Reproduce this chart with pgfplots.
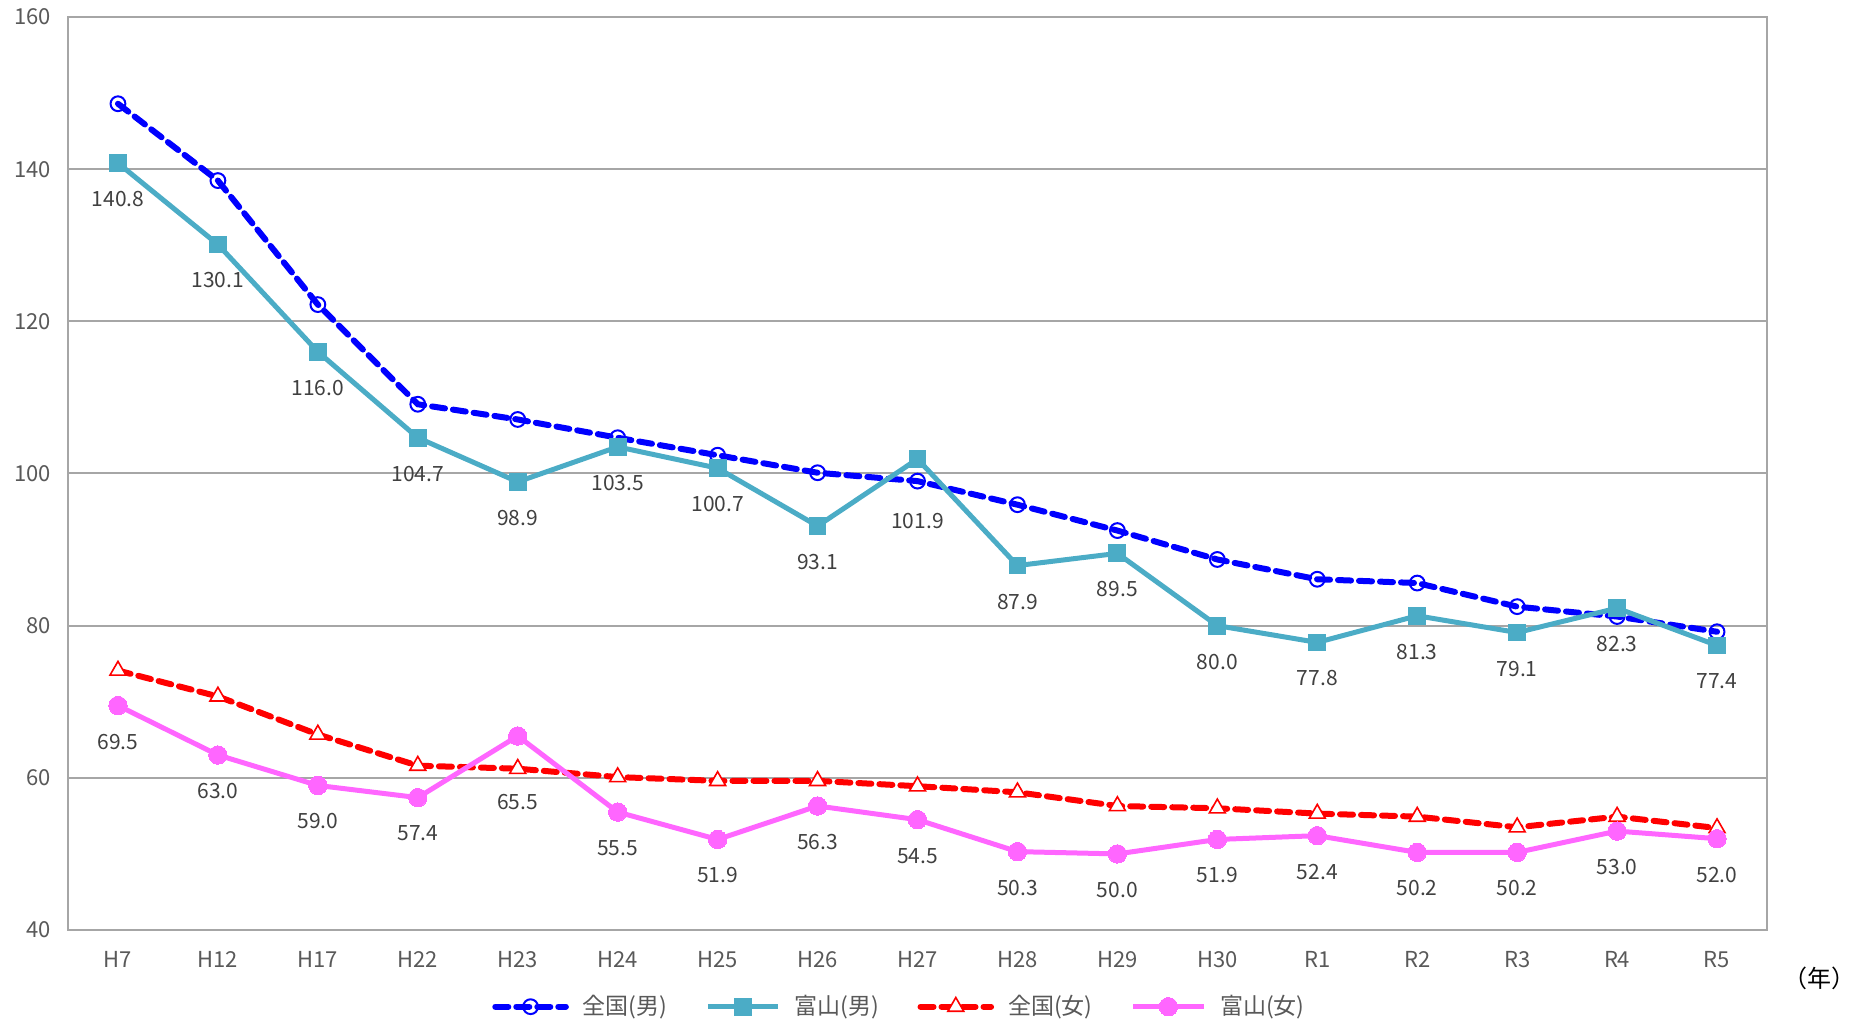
\documentclass[border=0pt]{standalone}
\usepackage{pgfplots}
\pgfplotsset{compat=1.18}
\usepackage{fontspec}
\setmainfont{Noto Sans CJK JP}

\definecolor{zenblue}{HTML}{0000FF}
\definecolor{toyteal}{HTML}{4BACC6}
\definecolor{zenred}{HTML}{FF0000}
\definecolor{toypink}{HTML}{FF66FF}
\definecolor{gridgray}{HTML}{A6A6A6}
\definecolor{tickgray}{HTML}{595959}
\definecolor{lblgray}{HTML}{404040}

\begin{document}
\begin{tikzpicture}
  % page = 928pt x 511pt, axis box sits at (0,0)--(849.5pt,456.5pt)
  \useasboundingbox (-34pt,-46pt) rectangle (894pt,465pt);
  \begin{axis}[
      name=ax,
      at={(0,0)}, anchor=south west,
      scale only axis,
      width=849.5pt, height=456.5pt,
      xmin=-0.5, xmax=16.5,
      ymin=40, ymax=160,
      ytick={40,60,...,160},
      xtick={0,...,16},
      xticklabels={H7,H12,H17,H22,H23,H24,H25,H26,H27,H28,H29,H30,R1,R2,R3,R4,R5},
      major tick length=0pt,
      axis line style={draw=gridgray, line width=1pt},
      ymajorgrids,
      grid style={draw=gridgray, line width=1pt},
      tick label style={font=\fontsize{11}{13}\selectfont, text=tickgray},
      /pgf/number format/assume math mode=true,
      xticklabel style={yshift=-7pt},
      yticklabel style={xshift=-5pt},
      clip=false,
      legend columns=4,
      legend style={at={(0.49,-0.084)}, anchor=center, draw=none,
        font=\fontsize{11.5}{13}\selectfont, text=tickgray,
        /tikz/every odd column/.append style={column sep=5pt},
        /tikz/every even column/.append style={column sep=17pt}},
      legend image code/.code={
        \draw[mark repeat=2, mark phase=2, #1]
          plot coordinates {(0cm,0cm) (0.62cm,0cm) (1.24cm,0cm)};},
      label node/.style={
        nodes near coords={\pgfmathprintnumber[fixed,fixed zerofill,precision=1]{\pgfplotspointmeta}},
        every node near coord/.append style={anchor=center, yshift=-18pt,
          font=\fontsize{10.5}{12}\selectfont, text=lblgray},
      },
    ]

    % 全国（男）
    \addplot[zenblue, line width=3pt, dash pattern=on 6.5pt off 4pt, line cap=round,
      mark=o, mark size=3.7pt, mark options={solid, line width=1pt, fill=none}]
      coordinates {
        (0,148.6) (1,138.5) (2,122.2) (3,109.1) (4,107.1) (5,104.7) (6,102.4)
        (7,100.1) (8,99.0) (9,95.9) (10,92.5) (11,88.7) (12,86.1) (13,85.6)
        (14,82.5) (15,81.2) (16,79.2)
      };
    \addlegendentry{全国(男)}

    % 富山（男）
    \addplot[toyteal, line width=2.5pt, mark=square*, mark size=4.2pt,
      mark options={solid, line width=0pt}, label node,
      coordinate style/.condition={x==8}{yshift=-13pt}]
      coordinates {
        (0,140.8) (1,130.1) (2,116.0) (3,104.7) (4,98.9) (5,103.5) (6,100.7)
        (7,93.1) (8,101.9) (9,87.9) (10,89.5) (11,80.0) (12,77.8) (13,81.3)
        (14,79.1) (15,82.3) (16,77.4)
      };
    \addlegendentry{富山(男)}

    % 全国（女）
    \addplot[zenred, line width=3pt, dash pattern=on 6.5pt off 4pt, line cap=round,
      mark=triangle*, mark size=4.6pt,
      mark options={solid, line width=0.8pt, draw=zenred, fill=white}]
      coordinates {
        (0,74.1) (1,70.7) (2,65.7) (3,61.6) (4,61.2) (5,60.1) (6,59.6)
        (7,59.6) (8,58.9) (9,58.1) (10,56.3) (11,56.0) (12,55.3) (13,54.9)
        (14,53.5) (15,54.9) (16,53.4)
      };
    \addlegendentry{全国(女)}

    % 富山（女）
    \addplot[toypink, line width=2.5pt, mark=*, mark size=4.6pt,
      mark options={solid, line width=0pt}, label node,
      coordinate style/.condition={x==4}{yshift=-15pt}]
      coordinates {
        (0,69.5) (1,63.0) (2,59.0) (3,57.4) (4,65.5) (5,55.5) (6,51.9)
        (7,56.3) (8,54.5) (9,50.3) (10,50.0) (11,51.9) (12,52.4) (13,50.2)
        (14,50.2) (15,53.0) (16,52.0)
      };
    \addlegendentry{富山(女)}

    \node[font=\fontsize{12}{14}\selectfont, anchor=center]
      at ([shift={(26pt,-24pt)}]rel axis cs:1,0) {（年）};
  \end{axis}
\end{tikzpicture}
\end{document}
